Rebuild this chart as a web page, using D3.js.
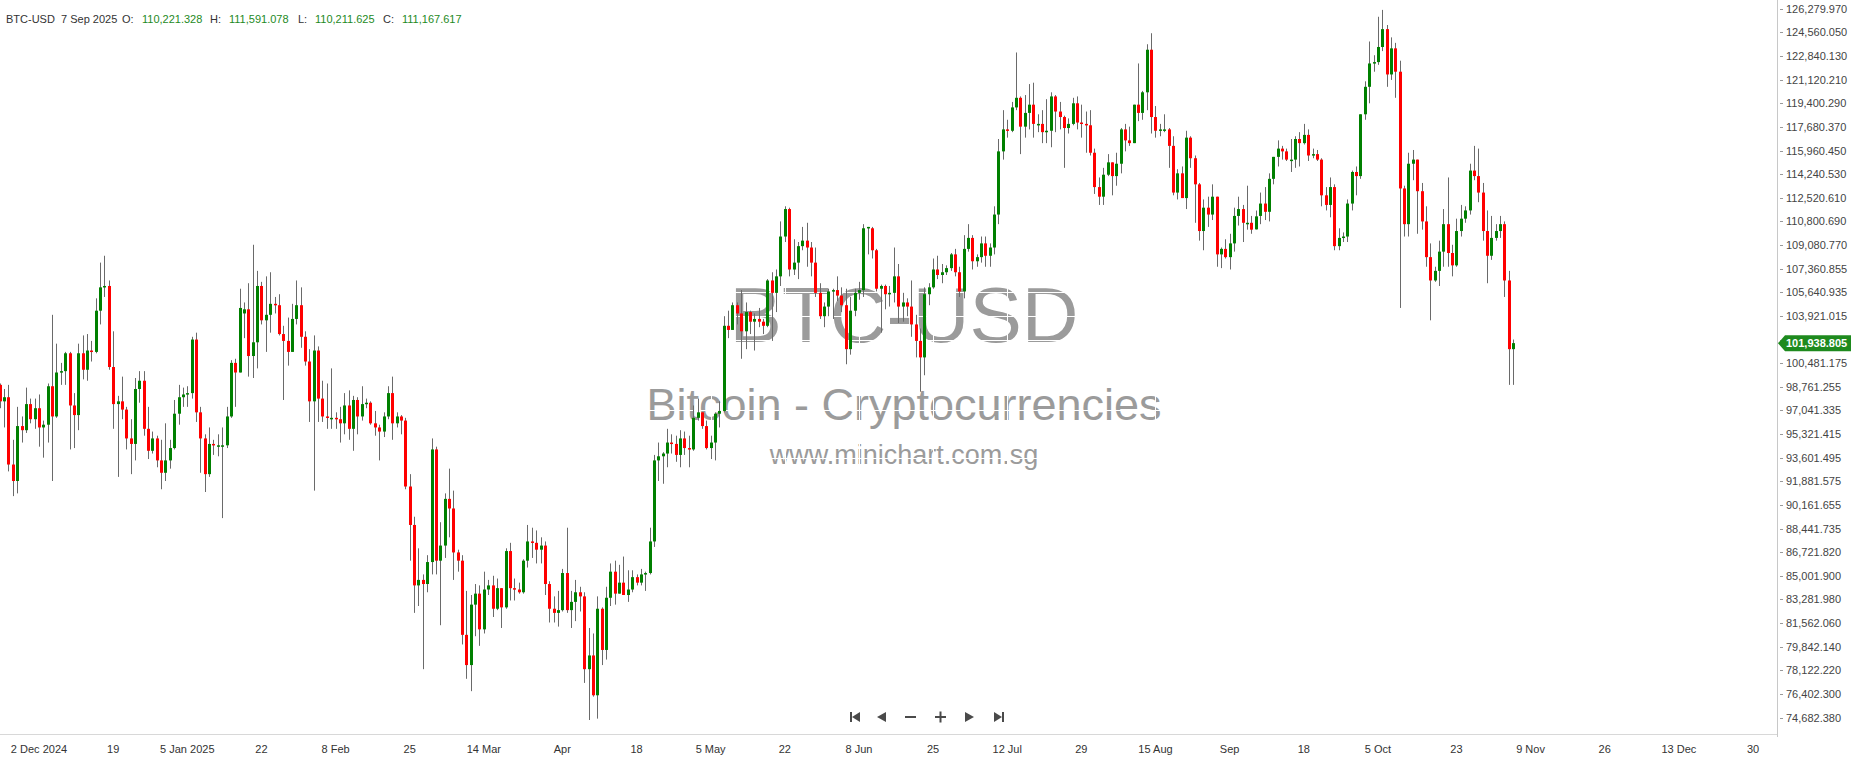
<!DOCTYPE html>
<html><head><meta charset="utf-8">
<script src="https://cdn.jsdelivr.net/npm/d3@7"></script>
<style>
html,body{margin:0;padding:0;background:#fff;overflow:hidden}
svg{display:block;font-family:"Liberation Sans",Arial,sans-serif}
</style></head><body>
<svg id="chart" width="1851" height="759"></svg>
<script>
// ---------- DATA (prices in thousands of USD) ----------
const startDate = "2024-11-22"; // first daily candle, one candle per day
const open = [
 98.3,98.9,97.7,98.0,93.1,91.9,95.9,95.6,97.5,
 96.4,97.2,95.8,96.0,98.8,96.6,99.8,99.9,101.2,97.4,96.7,101.2,100.0,101.4,101.3,104.3,106.0,106.1,100.2,97.5,97.7,97.1,95.0,94.6,98.6,99.2,95.7,94.1,95.0,93.4,92.5,
 93.4,94.3,96.8,98.0,98.2,98.3,102.2,96.9,95.0,92.4,94.6,94.5,94.5,94.5,96.6,100.5,99.8,104.1,104.4,101.0,102.0,106.1,103.6,104.0,104.8,104.7,102.6,102.1,101.3,103.7,104.7,
 102.4,100.6,97.7,101.4,97.9,96.6,96.5,96.5,96.4,96.1,97.4,95.7,97.8,96.6,97.5,97.6,96.1,95.8,95.5,96.6,98.3,96.1,96.6,96.3,91.5,88.7,84.3,84.7,
 84.4,86.0,94.2,86.1,87.2,90.6,89.9,86.7,86.1,80.7,78.5,82.9,83.7,81.1,84.0,84.3,82.6,84.1,82.7,86.8,84.1,84.0,83.8,86.1,87.5,87.4,86.9,87.2,84.4,82.6,82.3,
 82.5,85.2,82.5,83.1,83.8,83.5,78.2,79.2,76.3,82.6,79.6,83.4,85.3,83.7,84.5,83.6,84.0,84.9,84.5,85.1,85.2,87.5,93.4,93.7,93.9,94.7,94.6,93.8,95.0,94.3,
 94.2,96.5,96.9,95.9,94.3,94.7,96.8,97.0,103.2,102.9,104.7,104.1,102.8,104.2,103.5,103.7,103.5,103.2,106.5,105.6,106.8,109.7,111.7,107.3,107.8,109.0,109.4,108.9,107.8,105.6,103.9,
 104.6,105.7,105.8,105.4,104.7,101.5,104.3,105.6,105.8,110.3,110.3,108.7,105.9,106.1,105.5,105.6,106.8,104.6,104.9,104.6,103.3,102.1,100.9,105.5,106.0,107.3,106.9,107.1,107.4,108.4,
 107.1,105.7,108.8,109.6,107.9,108.2,109.2,108.3,108.9,111.3,115.9,117.5,117.4,119.1,119.8,117.7,118.7,119.3,117.9,117.9,117.3,117.4,119.9,118.8,118.4,117.6,117.9,119.4,118.0,117.9,117.8,
 115.8,113.3,112.6,114.2,115.1,114.1,115.0,117.5,116.7,116.5,119.3,118.7,120.2,123.3,118.4,117.4,117.5,117.5,116.3,112.9,114.3,112.5,116.9,115.4,113.5,110.1,111.8,111.3,112.6,108.4,108.8,
 108.2,109.2,111.2,111.7,110.7,110.7,110.221,111.2,112.1,111.5,113.9,115.5,116.1,115.9,115.3,115.3,116.8,116.5,117.1,115.6,115.7,115.3,112.7,112.0,113.3,109.0,109.6,109.7,112.1,114.4,
 114.1,118.6,120.6,122.3,122.4,123.5,124.8,121.5,123.4,121.7,113.2,110.6,115.0,115.3,113.0,110.8,108.2,106.5,107.2,108.6,110.6,108.5,107.6,110.1,111.0,111.6,114.5,114.1,112.9,110.1,108.3,
 109.6,110.1,110.6,106.5,101.5
];
const high = [
 99.6,99.0,98.6,98.9,94.9,97.3,96.6,98.7,97.9,
 97.9,98.2,96.3,99.0,104.0,101.9,100.5,101.3,101.3,98.3,101.9,102.5,102.6,102.1,105.2,107.8,108.3,106.5,102.8,98.1,99.5,97.3,96.4,99.4,99.9,99.9,97.3,95.5,95.2,94.9,96.1,
 94.9,97.8,98.9,98.7,98.8,102.4,102.7,97.3,95.3,95.8,94.9,95.3,95.8,97.3,100.7,100.8,105.9,104.9,106.3,109.1,107.2,106.4,106.8,107.1,105.3,105.5,103.2,103.8,104.8,106.5,106.0,
 102.8,101.5,102.5,101.7,99.2,99.0,100.1,96.9,97.3,98.3,98.5,98.1,98.0,98.8,97.9,97.7,97.0,96.0,96.9,98.8,99.5,96.9,96.7,96.5,92.4,89.3,87.0,85.1,
 86.5,95.0,94.4,88.9,91.0,92.8,91.2,86.9,86.5,83.9,83.6,84.4,84.3,85.3,84.7,85.0,84.8,84.1,87.0,87.4,84.8,84.5,86.2,88.7,88.5,88.3,87.8,87.5,84.6,83.5,83.9,
 85.5,88.5,83.9,84.7,84.2,83.8,81.2,80.8,83.5,82.7,84.2,85.9,86.1,85.8,86.4,85.4,85.4,85.1,85.5,85.3,88.5,93.8,94.7,94.0,95.7,95.3,95.2,95.6,95.5,95.2,
 97.4,97.9,96.9,96.3,95.2,96.9,97.7,103.9,104.3,104.9,104.9,105.8,104.9,104.3,104.1,104.5,103.7,106.6,107.1,107.3,110.8,111.9,111.8,109.5,109.3,110.4,110.7,109.3,108.9,106.3,104.9,
 105.9,105.9,106.8,106.0,105.9,105.3,105.9,106.4,110.6,110.4,110.4,108.8,106.2,106.2,106.1,108.9,107.7,105.6,105.2,106.5,104.0,103.0,106.0,106.3,108.1,108.3,107.7,107.6,108.5,108.8,
 107.5,109.8,110.6,109.8,108.4,109.7,109.7,109.2,111.9,116.8,118.9,118.2,119.5,123.1,119.9,120.0,120.8,120.9,118.6,118.9,119.7,120.2,120.0,119.5,118.5,118.3,119.8,119.9,119.3,118.8,118.9,
 116.1,114.0,114.7,115.7,115.1,115.8,117.6,117.9,117.7,119.3,122.3,120.3,123.7,124.5,119.2,117.9,118.6,117.6,117.0,114.6,114.8,117.4,117.0,115.6,113.6,112.4,112.6,113.5,112.6,108.9,109.5,
 109.9,111.8,112.6,112.0,113.4,111.2,111.591,112.9,113.3,114.3,115.5,116.7,116.3,116.1,116.8,117.0,117.3,117.9,117.5,116.1,116.0,115.4,113.3,114.0,113.5,110.3,110.0,112.4,114.5,114.8,
 118.6,121.0,123.9,122.9,125.7,126.2,125.1,124.2,123.8,122.5,113.4,115.8,116.0,115.3,113.6,111.9,109.2,107.5,109.4,111.7,114.0,109.1,111.0,112.0,111.9,115.0,116.3,116.1,113.6,111.6,111.2,
 110.6,111.2,110.8,107.2,102.2
];
const low = [
 97.2,97.2,95.8,92.6,90.8,91.0,94.7,95.4,96.1,
 95.7,94.4,93.6,94.7,91.9,96.5,98.9,98.9,94.2,94.3,95.6,99.3,99.2,100.6,101.2,103.3,105.3,100.0,95.7,92.2,96.4,94.2,92.4,93.4,97.6,95.2,93.5,93.9,92.9,91.3,91.9,
 92.8,94.2,96.0,97.3,97.3,97.9,96.2,92.5,91.1,92.2,93.8,93.7,89.2,94.3,96.5,97.3,99.8,102.3,99.5,99.4,100.1,103.3,101.3,102.7,104.1,102.5,97.8,100.3,101.3,103.3,101.6,
 100.3,96.2,91.2,96.2,96.2,95.7,95.7,95.7,94.7,95.3,94.9,94.1,95.3,96.3,97.2,96.0,95.2,93.4,95.1,96.4,94.9,95.8,95.3,91.3,86.1,82.3,82.8,78.2,
 83.8,85.1,85.1,81.4,86.3,87.8,84.7,85.3,80.0,77.5,76.6,80.6,79.9,80.8,83.6,82.0,82.5,81.2,82.6,83.2,83.2,83.7,83.7,85.6,86.3,85.9,85.9,83.6,81.6,81.6,81.3,
 82.4,82.3,81.2,81.7,82.4,77.2,74.5,76.2,74.6,78.5,78.9,82.8,82.9,83.7,83.6,83.1,83.8,84.3,84.3,83.9,85.1,87.1,91.9,91.7,92.9,93.9,93.3,92.9,93.8,92.9,
 94.1,96.3,95.7,94.2,93.5,93.4,95.8,96.9,102.3,102.9,103.3,100.8,101.5,102.6,101.4,103.1,102.6,103.1,102.1,104.2,106.1,109.3,106.8,106.9,106.6,108.7,107.5,106.8,105.3,103.7,103.1,
 103.9,103.7,105.0,104.2,100.4,101.1,103.9,105.1,105.3,108.4,108.1,105.7,102.7,104.4,104.6,104.9,103.4,103.5,103.9,102.4,100.9,98.4,99.6,104.7,105.9,106.6,106.3,106.9,107.2,106.8,
 105.3,105.2,108.6,107.3,107.5,107.8,107.5,107.5,108.4,110.6,115.3,116.9,117.3,118.9,115.7,116.9,117.5,116.9,117.3,116.5,116.5,116.2,117.3,117.5,114.7,117.2,117.8,117.5,116.9,115.8,115.6,
 112.8,112.0,112.0,114.1,112.7,113.4,114.3,115.9,116.3,116.5,118.1,118.2,118.9,117.2,116.9,117.0,117.3,114.7,112.7,112.4,112.5,111.7,114.7,110.7,109.4,108.7,110.4,110.9,107.5,107.4,108.1,
 107.3,108.6,110.5,109.3,110.2,109.9,110.212,110.6,110.9,110.8,113.5,114.8,115.3,115.2,114.4,114.7,114.8,116.4,115.2,115.4,115.2,111.9,111.6,111.1,108.7,108.7,109.3,109.3,111.6,112.7,
 113.9,118.2,119.4,121.7,122.2,123.2,120.6,121.1,119.8,104.5,109.7,109.7,113.8,109.9,110.2,107.5,103.6,106.4,106.1,107.5,107.5,106.8,107.5,109.7,110.7,111.3,113.8,112.2,109.4,106.3,108.0,
 109.4,109.6,105.3,98.9,98.9
];
const close = [
 98.9,97.7,98.0,93.1,91.9,95.9,95.6,97.5,96.4,
 97.2,95.8,96.0,98.8,96.6,99.8,99.9,101.2,97.4,96.7,101.2,100.0,101.4,101.3,104.3,106.0,106.1,100.2,97.5,97.7,97.1,95.0,94.6,98.6,99.2,95.7,94.1,95.0,93.4,92.5,93.4,
 94.3,96.8,98.0,98.2,98.3,102.2,96.9,95.0,92.4,94.6,94.5,94.5,94.5,96.6,100.5,99.8,104.5,104.4,101.0,102.0,106.1,103.6,104.0,104.8,104.7,102.6,102.1,101.3,103.7,104.7,102.4,
 100.6,97.7,101.4,97.9,96.6,96.5,96.5,96.4,96.1,97.4,95.7,97.8,96.6,97.5,97.6,96.1,95.8,95.5,96.6,98.3,96.1,96.6,96.3,91.5,88.7,84.3,84.7,84.4,
 86.0,94.2,86.1,87.2,90.6,89.9,86.7,86.1,80.7,78.5,82.9,83.7,81.1,84.0,84.3,82.6,84.1,82.7,86.8,84.1,84.0,83.8,86.1,87.5,87.4,86.9,87.2,84.4,82.6,82.3,82.5,
 85.2,82.5,83.1,83.8,83.5,78.2,79.2,76.3,82.6,79.6,83.4,85.3,83.7,84.5,83.6,84.0,84.9,84.5,85.1,85.2,87.5,93.4,93.7,93.9,94.7,94.6,93.8,95.0,94.3,94.2,
 96.5,96.9,95.9,94.3,94.7,96.8,97.0,103.2,102.9,104.7,104.1,102.8,104.2,103.5,103.7,103.5,103.2,106.5,105.6,106.8,109.7,111.7,107.3,107.8,109.0,109.4,108.9,107.8,105.6,103.9,104.6,
 105.7,105.8,105.4,104.7,101.5,104.3,105.6,105.8,110.3,110.4,108.7,105.9,106.1,105.5,105.6,106.8,104.6,104.9,104.6,103.3,102.1,100.9,105.5,106.0,107.3,106.9,107.1,107.4,108.4,107.1,
 105.7,108.8,109.6,107.9,108.2,109.2,108.3,108.9,111.3,115.9,117.5,117.4,119.1,119.8,117.7,118.7,119.3,117.9,117.9,117.3,117.4,119.9,118.8,118.4,117.6,117.9,119.4,118.0,117.9,117.8,115.8,
 113.3,112.6,114.2,115.1,114.1,115.0,117.5,116.7,116.5,119.3,118.7,120.2,123.3,118.4,117.4,117.5,117.5,116.3,112.9,114.3,112.5,116.9,115.4,113.5,110.1,111.8,111.3,112.6,108.4,108.8,108.2,
 109.2,111.2,111.7,110.7,110.7,110.2,111.168,112.1,111.5,113.9,115.5,116.1,115.9,115.3,115.3,116.8,116.5,117.1,115.6,115.7,115.3,112.7,112.0,113.3,109.0,109.6,109.7,112.1,114.4,114.1,
 118.6,120.6,122.3,122.4,123.5,124.8,121.5,123.4,121.7,113.2,110.6,115.0,115.3,113.0,110.8,108.2,106.5,107.2,108.6,110.6,108.5,107.6,110.1,111.0,111.6,114.5,114.1,112.9,110.1,108.3,109.6,
 110.1,110.6,106.5,101.5,101.939
];
const yTickValues = [126279.970,124560.050,122840.130,121120.210,119400.290,117680.370,115960.450,114240.530,112520.610,110800.690,109080.770,107360.855,105640.935,103921.015,102201.095,100481.175,98761.255,97041.335,95321.415,93601.495,91881.575,90161.655,88441.735,86721.820,85001.900,83281.980,81562.060,79842.140,78122.220,76402.300,74682.380];
const xTickDates = ["2024-12-02","2024-12-19","2025-01-05","2025-01-22","2025-02-08","2025-02-25","2025-03-14","2025-04-01","2025-04-18","2025-05-05","2025-05-22","2025-06-08","2025-06-25","2025-07-12","2025-07-29","2025-08-15","2025-09-01","2025-09-18","2025-10-05","2025-10-23","2025-11-09","2025-11-26","2025-12-13","2025-12-30"];
const xTickLabels = ["2 Dec 2024","19","5 Jan 2025","22","8 Feb","25","14 Mar","Apr","18","5 May","22","8 Jun","25","12 Jul","29","15 Aug","Sep","18","5 Oct","23","9 Nov","26","13 Dec","30"];
const lastPrice = 101938.805;
const headerParts = [["BTC-USD","#333"],["7 Sep 2025","#333"],["O:","#333"],["110,221.328","#1e8a1e"],["H:","#333"],["111,591.078","#1e8a1e"],["L:","#333"],["110,211.625","#1e8a1e"],["C:","#333"],["111,167.617","#1e8a1e"]];
const headerX = [6,61,122,142,210,229,298,315,383,402];
const watermark = [["BTC-USD",78.5],["Bitcoin - Cryptocurrencies",45],["www.minichart.com.sg",27]];

// ---------- LAYOUT ----------
const W = 1851, H = 759, plotRight = 1777, plotBottom = 734;
const svg = d3.select("#chart");
const parse = d3.utcParse("%Y-%m-%d");
const t0 = parse(startDate);
const dates = open.map((_, i) => d3.utcDay.offset(t0, i));
const x = d3.scaleUtc().domain([parse("2024-12-02"), parse("2025-12-30")]).range([39, 1753]);
const y = d3.scaleLinear().domain([74682.38, 126279.97]).range([717.5, 8.8]);
const fmt = d3.format(",.3f");
const K = 1000;

// watermark
const wmY = [342, 419.5, 463.5];
const wm = svg.append("g");
watermark.forEach((d, i) => {
  wm.append("text").attr("x", 904).attr("y", wmY[i]).attr("text-anchor", "middle")
    .attr("font-size", d[1]).attr("fill", "#9b9b9b").text(d[0]);
});
// white gridlines (visible only over the watermark)
const grid = svg.append("g").attr("stroke", "#fff").attr("stroke-width", 1);
yTickValues.forEach(v => grid.append("line").attr("x1", 0).attr("x2", plotRight)
  .attr("y1", Math.round(y(v)) + 0.5).attr("y2", Math.round(y(v)) + 0.5));
xTickDates.forEach(d => grid.append("line").attr("y1", 0).attr("y2", plotBottom)
  .attr("x1", Math.round(x(parse(d))) + 0.5).attr("x2", Math.round(x(parse(d))) + 0.5));

// candles
svg.append("clipPath").attr("id", "plotclip").append("rect")
  .attr("x", 0).attr("y", 0).attr("width", plotRight).attr("height", plotBottom);
const cg = svg.append("g").attr("clip-path", "url(#plotclip)");
dates.forEach((d, i) => {
  const cx = Math.round(x(d));
  const up = close[i] >= open[i];
  cg.append("line").attr("x1", cx + 0.5).attr("x2", cx + 0.5)
    .attr("y1", y(high[i] * K)).attr("y2", y(low[i] * K))
    .attr("stroke", "#6a6a6a").attr("stroke-width", 1);
  const yt = y(Math.max(open[i], close[i]) * K), yb = y(Math.min(open[i], close[i]) * K);
  cg.append("rect").attr("x", cx - 1).attr("width", 3)
    .attr("y", yt).attr("height", Math.max(1.5, yb - yt))
    .attr("fill", up ? "#008000" : "#ff0000");
});

// right axis
svg.append("line").attr("x1", plotRight + 0.5).attr("x2", plotRight + 0.5).attr("y1", 0).attr("y2", 737)
  .attr("stroke", "#c8c8c8");
const ya = svg.append("g");
yTickValues.forEach(v => {
  const yy = y(v);
  ya.append("line").attr("x1", plotRight + 3).attr("x2", plotRight + 6)
    .attr("y1", Math.round(yy) + 0.5).attr("y2", Math.round(yy) + 0.5).attr("stroke", "#999");
  ya.append("text").attr("x", plotRight + 9).attr("y", yy + 4)
    .attr("font-size", 11).attr("fill", "#444").text(fmt(v));
});
// last price marker
const ly = y(lastPrice);
svg.append("path").attr("d", `M${plotRight + 1},${ly} L${plotRight + 8},${ly - 8} L${W},${ly - 8} L${W},${ly + 8} L${plotRight + 8},${ly + 8} Z`)
  .attr("fill", "#1e8a1e");
svg.append("text").attr("x", plotRight + 9).attr("y", ly + 4).attr("font-size", 11)
  .attr("font-weight", "bold").attr("fill", "#fff").text(fmt(lastPrice));

// bottom axis
svg.append("line").attr("x1", 0).attr("x2", plotRight).attr("y1", plotBottom + 0.5).attr("y2", plotBottom + 0.5)
  .attr("stroke", "#d8d8d8");
const xa = svg.append("g");
xTickDates.forEach((d, i) => {
  xa.append("text").attr("x", x(parse(d))).attr("y", 753).attr("text-anchor", "middle")
    .attr("font-size", 11).attr("fill", "#333").text(xTickLabels[i]);
});

// header
const hg = svg.append("g");
headerParts.forEach((p, i) => {
  hg.append("text").attr("x", headerX[i]).attr("y", 23).attr("font-size", 11)
    .attr("fill", p[1]).text(p[0]);
});

// navigation buttons
const nav = svg.append("g").attr("fill", "#4a4a4a");
const ny = 717;
nav.append("rect").attr("x", 850).attr("y", ny - 5).attr("width", 2).attr("height", 10);
nav.append("path").attr("d", `M852,${ny} L860,${ny - 5} L860,${ny + 5} Z`);
nav.append("path").attr("d", `M877,${ny} L886,${ny - 5} L886,${ny + 5} Z`);
nav.append("rect").attr("x", 905).attr("y", ny - 1).attr("width", 11).attr("height", 2);
nav.append("rect").attr("x", 935).attr("y", ny - 1).attr("width", 11).attr("height", 2);
nav.append("rect").attr("x", 939.5).attr("y", ny - 5.5).attr("width", 2).attr("height", 11);
nav.append("path").attr("d", `M965,${ny - 5} L974,${ny} L965,${ny + 5} Z`);
nav.append("path").attr("d", `M994,${ny - 5} L1002,${ny} L994,${ny + 5} Z`);
nav.append("rect").attr("x", 1002).attr("y", ny - 5).attr("width", 2).attr("height", 10);
</script>
</body></html>
